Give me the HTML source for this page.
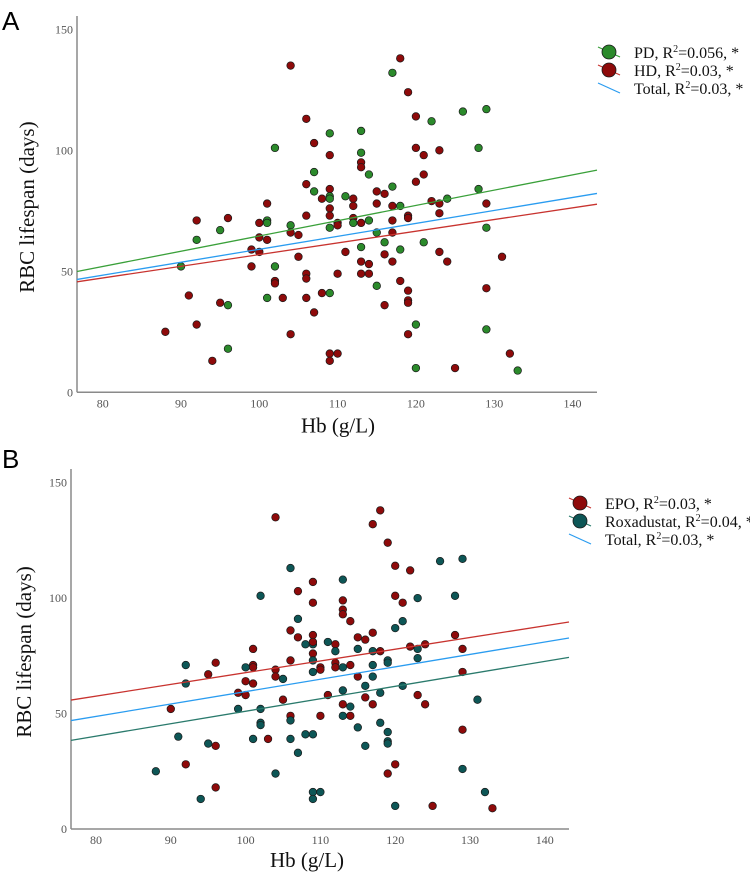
<!DOCTYPE html>
<html><head><meta charset="utf-8"><style>
html,body{margin:0;padding:0;background:#fff;}
svg{display:block;font-family:"Liberation Serif",serif;}
.tick{font-size:12px;fill:#555;}
.lg{font-size:16px;fill:#111;}
.ttl{font-size:21px;fill:#111;}
.pl{font-family:"Liberation Sans",sans-serif;font-size:26px;fill:#000;}
</style></head><body>
<svg id="chart" width="750" height="876" viewBox="0 0 750 876" xmlns="http://www.w3.org/2000/svg"></svg>
<script>
// ---- Panel A data (Hb, RBC lifespan, group P=PD, H=HD) ----
const aHb = [104,106,109,113,107,102,113,109,113,113,114,107,106,109,107,111,109,109,108,112,112,109,101,106,109,112,96,92,101,101,100,112,113,110,110,104,114,109,95,104,105,100,92,101,99,100,111,113,105,113,114,90,99,102,115,106,110,113,114,106,102,102,91,108,109,101,103,106,95,96,107,92,88,104,96,109,110,94,109,
118,117,119,126,129,120,122,128,120,123,121,121,120,117,116,115,128,124,122,123,115,117,118,129,123,119,119,117,129,117,115,116,121,118,123,116,117,124,131,118,119,129,119,119,116,120,129,119,132,120,125,133];
const aLife = [135,113,107,108,103,101,99,98,95,93,90,91,86,84,83,81,81,80,80,80,77,76,78,73,73,72,72,71,71,70,70,70,70,70,69,69,71,68,67,66,65,64,63,63,59,58,58,60,56,54,53,52,52,52,44,49,49,49,49,47,46,45,40,41,41,39,39,39,37,36,33,28,25,24,18,16,16,13,13,
138,132,124,116,117,114,112,101,101,100,98,90,87,85,82,83,84,80,79,78,78,77,77,78,74,73,72,71,68,66,66,62,62,59,58,57,54,54,56,46,42,43,38,37,36,28,26,24,16,10,10,9];
const aGroup = ["H","H","P","P","H","P","P","H","H","H","P","P","H","H","P","P","P","P","H","H","H","H","H","H","H","H","H","H","P","P","H","P","H","H","H","P","P","P","P","H","H","H","P","H","H","H","H","P","H","H","H","P","H","P","P","H","H","H","H","H","H","H","H","H","P","P","H","H","H","P","H","H","H","H","P","H","H","H","H",
"H","P","H","P","P","H","P","P","H","H","H","H","H","P","H","H","P","P","H","H","H","H","P","H","H","H","H","H","P","H","P","P","P","P","H","H","H","H","H","H","H","H","H","H","H","P","P","H","H","P","H","P"];
const aLineNames = ["PD","HD","Total"];
const aIntercepts = [1.5, 8.6, 5.6];
const aSlopes = [0.631, 0.483, 0.535];

// ---- Panel B data (E=EPO, R=Roxadustat) ----
const bHb = [104,106,109,107,102,109,107,106,109,107,108,109,109,111,101,109,109,106,96,92,101,101,100,104,109,110,110,95,104,105,100,92,101,99,100,111,105,90,99,102,106,110,106,102,102,91,108,109,101,103,106,95,96,107,92,88,104,96,109,110,94,109,
118,117,119,126,129,120,122,113,128,120,123,121,113,113,113,114,121,120,117,115,116,128,112,112,115,117,118,122,124,123,129,123,119,119,112,112,113,114,117,129,115,117,116,121,118,113,123,116,131,117,113,124,114,114,113,115,118,119,129,119,119,116,120,129,119,132,120,125,133];
const bLife = [135,113,107,103,101,98,91,86,84,83,80,80,81,81,78,76,73,73,72,71,71,70,70,69,68,70,69,67,66,65,64,63,63,59,58,58,56,52,52,52,49,49,47,46,45,40,41,41,39,39,39,37,36,33,28,25,24,18,16,16,13,13,
138,132,124,116,117,114,112,108,101,101,100,98,99,95,93,90,90,87,85,83,82,84,80,77,78,77,77,79,80,78,78,74,73,72,72,70,70,71,71,68,66,66,62,62,59,60,58,57,56,54,54,54,53,49,49,44,46,42,43,38,37,36,28,26,24,16,10,10,9];
const bGroup = ["E","R","E","E","R","E","R","E","E","E","R","R","E","R","E","E","R","E","E","R","E","E","R","E","R","E","E","E","E","R","E","R","E","E","E","E","E","E","R","R","E","E","R","R","R","R","R","R","R","E","R","R","E","R","E","R","R","E","R","R","R","R",
"E","E","E","R","R","E","E","R","R","E","R","E","E","E","E","E","R","R","E","E","E","E","E","R","R","R","E","E","E","R","E","R","R","R","E","E","R","E","R","E","E","R","R","R","R","R","E","E","R","E","E","E","R","E","R","R","R","R","E","R","R","R","E","R","E","R","R","E","E"];
const bLineNames = ["EPO","Roxadustat","Total"];
const bIntercepts = [16.9, -3.0, 5.8];
const bSlopes = [0.508, 0.540, 0.537];

const xTicks = [80,90,100,110,120,130,140];
const yTicks = [0,50,100,150];

const NS = "http://www.w3.org/2000/svg";
const svg = document.getElementById("chart");
function mk(tag, attrs, parent, text){
  const e = document.createElementNS(NS, tag);
  for (const k in attrs) e.setAttribute(k, attrs[k]);
  if (text !== undefined) e.textContent = text;
  (parent||svg).appendChild(e);
  return e;
}

function panel(cfg){
  const g = mk("g", {});
  
  
  const xS = v => cfg.x0px + (v - 80) * cfg.xk;
  const yS = v => cfg.y0px - v * cfg.yk;
  const left = cfg.axisLeft, right = cfg.axisRight, top = cfg.axisTop, bottom = cfg.y0px;
  const xMin = 80 + (left - cfg.x0px)/cfg.xk, xMax = 80 + (right - cfg.x0px)/cfg.xk;

  const lbl = mk("text", {x: 2, y: cfg.letterY, class: "pl"}, g, cfg.letter);
  
  

  const ya = mk("line", {x1:left, y1:top, x2:left, y2:bottom, stroke:"#8a8a8a", "stroke-width":1.5}, g);
  
  
  const xa = mk("line", {x1:left, y1:bottom, x2:right, y2:bottom, stroke:"#8a8a8a", "stroke-width":1.5}, g);
  
  

  xTicks.forEach(t => {
    const e = mk("text", {x: xS(t), y: bottom + 15, class:"tick", "text-anchor":"middle"}, g, String(t));
    
    
  });
  yTicks.forEach(t => {
    const e = mk("text", {x: left - 4, y: yS(t) + 4, class:"tick", "text-anchor":"end"}, g, String(t));
    
    
  });

  const yt = mk("text", {x:0, y:0, class:"ttl", "text-anchor":"middle", transform:`translate(${cfg.yTitleX},${(top+bottom)/2+3}) rotate(-90)`, "xml:space":"preserve"}, g, "RBC  lifespan (days)");
  
  
  const xt = mk("text", {x: cfg.xTitleX, y: bottom + cfg.xTitleDy, class:"ttl", "text-anchor":"middle"}, g, "Hb (g/L)");
  
  

  cfg.hb.forEach((h, i) => {
    const c = mk("circle", {cx: xS(h), cy: yS(cfg.life[i]), r: 3.8, fill: cfg.colors[cfg.group[i]], stroke:"#1a1a1a", "stroke-width":0.7}, g);
    
    
  });

  cfg.intercepts.forEach((b, i) => {
    const l = mk("line", {x1: left, y1: yS(b + cfg.slopes[i]*xMin), x2: right, y2: yS(b + cfg.slopes[i]*xMax), stroke: cfg.lineColors[i], "stroke-width":1.3}, g);
    
    
  });

  cfg.legend.forEach((en, i) => {
    const lg = mk("g", {}, g);
    
    
    const cy = cfg.legY + i*18, cx = cfg.legX;
    mk("line", {x1: cx-11, y1: cy-5, x2: cx+11, y2: cy+5, stroke: en.line, "stroke-width":1.2}, lg);
    if (en.fill) mk("circle", {cx: cx, cy: cy, r: 7, fill: en.fill, stroke:"#1a1a1a", "stroke-width":0.8}, lg);
    const t = mk("text", {x: cx+25, y: cy+6, class:"lg"}, lg);
    t.appendChild(document.createTextNode(en.label + ", R"));
    mk("tspan", {"font-size":"10", dy:"-6"}, t, "2");
    mk("tspan", {dy:"6"}, t, "=" + en.r2 + ", *");
  });
}

panel({name:"panel-a", letter:"A", letterY:30, x0px:102.7, xk:7.83, y0px:392.3, yk:2.42,
  axisLeft:77, axisRight:597, axisTop:16, yTitleX:34, xTitleX:338, xTitleDy:40,
  hb:aHb, life:aLife, group:aGroup, colors:{P:"#2b8a2b", H:"#8e0a0a"}, groupNames:{P:"pd",H:"hd"},
  intercepts:aIntercepts, slopes:aSlopes, lineNames:aLineNames, lineColors:["#3aa03a","#c8332f","#2a9cf0"],
  legX:609, legY:52,
  legend:[{label:"PD", r2:"0.056", fill:"#2b8a2b", line:"#3aa03a"},{label:"HD", r2:"0.03", fill:"#8e0a0a", line:"#c8332f"},{label:"Total", r2:"0.03", fill:null, line:"#2a9cf0"}]});

panel({name:"panel-b", letter:"B", letterY:468, x0px:96, xk:7.48, y0px:829, yk:2.309,
  axisLeft:71, axisRight:569, axisTop:469, yTitleX:31, xTitleX:307, xTitleDy:38,
  hb:bHb, life:bLife, group:bGroup, colors:{E:"#8e0a0a", R:"#0d5656"}, groupNames:{E:"epo",R:"roxadustat"},
  intercepts:bIntercepts, slopes:bSlopes, lineNames:bLineNames, lineColors:["#c8332f","#2a7a6c","#2a9cf0"],
  legX:580, legY:503,
  legend:[{label:"EPO", r2:"0.03", fill:"#8e0a0a", line:"#c8332f"},{label:"Roxadustat", r2:"0.04", fill:"#0d5656", line:"#2a7a6c"},{label:"Total", r2:"0.03", fill:null, line:"#2a9cf0"}]});
</script>
</body></html>
